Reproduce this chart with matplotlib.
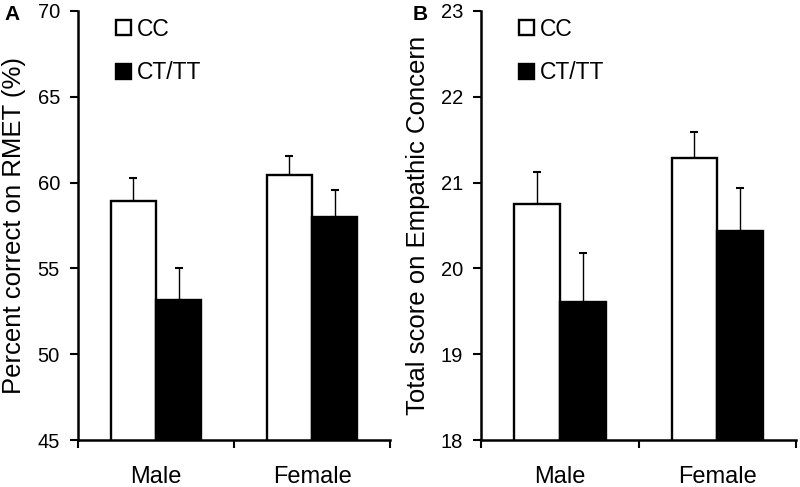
import matplotlib.pyplot as plt
import numpy as np

plt.rcParams["font.family"] = ["Liberation Sans", "DejaVu Sans"]

groups = ["Male", "Female"]
genotypes = ["CC", "CT/TT"]

rmet_cc = [58.95, 60.43]
rmet_cc_err = [1.34, 1.10]
rmet_ct = [53.16, 57.97]
rmet_ct_err = [1.86, 1.62]

ec_cc = [20.75, 21.29]
ec_cc_err = [0.37, 0.30]
ec_ct = [19.61, 20.44]
ec_ct_err = [0.57, 0.50]

fig = plt.figure(figsize=(8, 4.87), dpi=100)
axA = fig.add_axes([0.0975, 0.0965, 0.39, 0.881])
axB = fig.add_axes([0.6015, 0.0965, 0.3935, 0.881])

x = np.arange(len(groups)) + 0.5
w = 0.29


def draw(ax, cc, cc_err, ct, ct_err, ylim, yticks, ylabel, letter, lx):
    b1 = ax.bar(x - w / 2, cc, w, color="white", edgecolor="black",
                linewidth=1.7, label=genotypes[0], zorder=2)
    b2 = ax.bar(x + w / 2, ct, w, color="black", edgecolor="black",
                linewidth=1.7, label=genotypes[1], zorder=2)
    ax.errorbar(x - w / 2, cc, yerr=[np.zeros(2), cc_err], fmt="none",
                ecolor="black", elinewidth=1, capsize=3, capthick=1.5, zorder=1)
    ax.errorbar(x + w / 2, ct, yerr=[np.zeros(2), ct_err], fmt="none",
                ecolor="black", elinewidth=1, capsize=3, capthick=1.5, zorder=1)
    ax.set_ylim(*ylim)
    ax.set_xlim(0, 2)
    ax.set_yticks(yticks)
    ax.set_xticks([0, 1, 2])
    ax.set_xticklabels([])
    ax.set_xticks(x, minor=True)
    ax.set_xticklabels(groups, minor=True, fontsize=17)
    ax.tick_params(axis="x", which="minor", length=0, pad=19)
    ax.tick_params(axis="x", which="major", length=6, width=1.5, direction="out")
    ax.tick_params(axis="y", length=6, width=1.5, labelsize=14.5, pad=7)
    for s in ["top", "right"]:
        ax.spines[s].set_visible(False)
    for s in ["left", "bottom"]:
        ax.spines[s].set_linewidth(1.8)
    ax.set_ylabel(ylabel, fontsize=18.5, labelpad=8)
    ax.legend(handles=[b1, b2], loc="upper left", bbox_to_anchor=(0.055, 1.032),
              frameon=False, fontsize=16.5, handlelength=0.65, handleheight=0.65,
              handletextpad=0.25, labelspacing=0.9)
    fig.text(lx, 0.971, letter, fontsize=15, fontweight="bold", ha="left", va="center")


draw(axA, rmet_cc, rmet_cc_err, rmet_ct, rmet_ct_err, (45, 70),
     [45, 50, 55, 60, 65, 70], "Percent correct on RMET (%)", "A", 0.005)
draw(axB, ec_cc, ec_cc_err, ec_ct, ec_ct_err, (18, 23),
     [18, 19, 20, 21, 22, 23], "Total score on Empathic Concern", "B", 0.516)

fig.savefig("out.png", dpi=100)
